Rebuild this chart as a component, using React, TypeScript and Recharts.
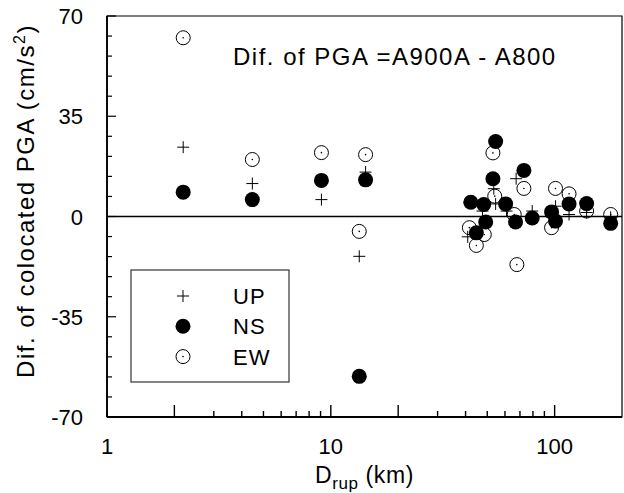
import React from "react";
import {
  ScatterChart,
  Scatter,
  XAxis,
  YAxis,
  ReferenceLine,
  ReferenceArea,
} from "recharts";

// D_rup (km) and PGA difference (cm/s^2) for each component
const upDist = [2.19, 4.46, 9.08, 13.4, 14.3, 40.9, 47.6, 53.5, 54.5, 61.0, 67.3, 79.4, 101, 116, 139, 178];
const upDiff = [24.2, 11.5, 5.9, -13.9, 15.5, -7.1, 1.9, 9.7, 4.4, 1.9, 13.2, 1.9, 3.6, 0.7, 1.4, -0.3];

const nsDist = [2.19, 4.46, 9.08, 13.4, 14.3, 42.2, 44.7, 48.2, 49.2, 53.0, 54.5, 60.4, 66.9, 72.9, 79.4, 96.9, 100.9, 116, 139, 178];
const nsDiff = [8.5, 5.9, 12.6, -55.8, 12.8, 5.0, -5.7, 4.2, -1.9, 13.2, 26.2, 4.4, -1.9, 16.1, -0.5, 1.6, -1.6, 4.4, 4.5, -2.4];

const ewDist = [2.19, 4.46, 9.08, 13.4, 14.3, 41.6, 44.7, 48.5, 53.0, 54.0, 66.0, 67.8, 72.9, 96.9, 100.9, 116, 139, 178];
const ewDiff = [62.4, 19.9, 22.3, -5.2, 21.6, -3.9, -10.1, -6.3, 22.2, 7.1, 0.7, -16.8, 9.8, -3.9, 9.8, 7.9, 1.9, 0.7];

const xTicks = [1, 2, 3, 4, 5, 6, 7, 8, 9, 10, 20, 30, 40, 50, 60, 70, 80, 90, 100];
const xLabels = [1, 10, 100];
const xLongTicks = [2, 10, 20, 100];
const yTicks = [-70, -63, -56, -49, -42, -35, -28, -21, -14, -7, 0, 7, 14, 21, 28, 35, 42, 49, 56, 63, 70];
const yLabels = [-70, -35, 0, 35, 70];

const FONT = '"Liberation Sans", Arial, Helvetica, sans-serif';

const toPoints = (xs: number[], ys: number[]) => xs.map((x, i) => ({ x, y: ys[i] }));

const PlusShape = (p: any) => (
  <path
    d={`M${p.cx - 6},${p.cy}H${p.cx + 6}M${p.cx},${p.cy - 6}V${p.cy + 6}`}
    stroke="#000"
    strokeWidth={1}
    fill="none"
  />
);

const DotShape = (p: any) => <circle cx={p.cx} cy={p.cy} r={7.5} fill="#000" />;

const RingShape = (p: any) => (
  <g>
    <circle cx={p.cx} cy={p.cy} r={7} fill="none" stroke="#000" strokeWidth={1} />
    <circle cx={p.cx} cy={p.cy} r={0.8} fill="#000" />
  </g>
);

const XTick = (props: any) => {
  const { x, y, payload } = props;
  const v = payload.value;
  const len = xLongTicks.includes(v) ? 12 : 6;
  return (
    <g>
      <line x1={x} x2={x} y1={y} y2={y - len} stroke="#000" strokeWidth={1.4} />
      {xLabels.includes(v) && (
        <text x={x} y={y + 37} textAnchor="middle" fontSize={22} fontFamily={FONT} fill="#000">
          {v}
        </text>
      )}
    </g>
  );
};

const YTick = (props: any) => {
  const { x, y, payload } = props;
  const v = payload.value;
  const major = yLabels.includes(v);
  return (
    <g>
      <line x1={x} x2={x + (major ? 9 : 5)} y1={y} y2={y} stroke="#000" strokeWidth={1.2} />
      {major && (
        <text x={x - 24} y={y + 8} textAnchor="end" fontSize={22} fontFamily={FONT} fill="#000">
          {v}
        </text>
      )}
    </g>
  );
};

const XTitle = (props: any) => {
  const vb = props.viewBox || { x: 107, y: 417, width: 515 };
  return (
    <text
      x={vb.x + vb.width / 2}
      y={vb.y + 66}
      textAnchor="middle"
      fontSize={23}
      fontFamily={FONT}
      fill="#000"
      letterSpacing={0.6}
    >
      D
      <tspan fontSize={17} dy={6}>rup</tspan>
      <tspan dy={-6}> (km)</tspan>
    </text>
  );
};

const YTitle = () => (
  <text
    x={34}
    y={201}
    transform="rotate(-90 34 201)"
    textAnchor="middle"
    fontSize={24}
    fontFamily={FONT}
    fill="#000"
    letterSpacing={1.5}
  >
    Dif. of colocated PGA (cm/s
    <tspan fontSize={16} dy={-9}>2</tspan>
    <tspan dy={9}>)</tspan>
  </text>
);

const legendRows = [
  { name: "UP", Shape: PlusShape },
  { name: "NS", Shape: DotShape },
  { name: "EW", Shape: RingShape },
];

export default function App() {
  return (
    <div style={{ position: "absolute", left: 0, top: 0, width: 624, height: 493, background: "#fff" }}>
      <ScatterChart width={624} height={493} margin={{ top: 16, right: 2, bottom: 0, left: 0 }}>
        <XAxis
          type="number"
          dataKey="x"
          scale="log"
          domain={[1, 200]}
          allowDataOverflow
          ticks={xTicks}
          interval={0}
          tick={<XTick />}
          tickLine={false}
          tickSize={0}
          tickMargin={0}
          height={76}
          axisLine={{ stroke: "#000", strokeWidth: 1.8 }}
          label={<XTitle />}
        />
        <YAxis
          type="number"
          dataKey="y"
          domain={[-70, 70]}
          allowDataOverflow
          ticks={yTicks}
          interval={0}
          tick={<YTick />}
          tickLine={false}
          tickSize={0}
          tickMargin={0}
          width={107}
          axisLine={{ stroke: "#000", strokeWidth: 1.8 }}
          label={<YTitle />}
        />
        <ReferenceArea x1={1} x2={200} y1={-70} y2={70} fill="none" stroke="#000" strokeWidth={1.2} />
        <ReferenceLine y={0} stroke="#000" strokeWidth={1.7} />
        <Scatter name="EW" data={toPoints(ewDist, ewDiff)} shape={RingShape} isAnimationActive={false} />
        <Scatter name="UP" data={toPoints(upDist, upDiff)} shape={PlusShape} isAnimationActive={false} />
        <Scatter name="NS" data={toPoints(nsDist, nsDiff)} shape={DotShape} isAnimationActive={false} />
      </ScatterChart>
      <svg
        width={624}
        height={493}
        style={{ position: "absolute", left: 0, top: 0, pointerEvents: "none" }}
      >
        <text x={233} y={65} fontSize={24} fontFamily={FONT} fill="#000" letterSpacing={1.5}>
          Dif. of PGA =A900A - A800
        </text>
        <rect x={131} y={270} width={158} height={112} fill="#fff" stroke="#333" strokeWidth={1.2} />
        {legendRows.map((r, i) => (
          <g key={r.name}>
            <r.Shape cx={183} cy={296 + i * 30.3} />
            <text x={233} y={304 + i * 30.3} fontSize={22} fontFamily={FONT} fill="#000" letterSpacing={1}>
              {r.name}
            </text>
          </g>
        ))}
      </svg>
    </div>
  );
}
